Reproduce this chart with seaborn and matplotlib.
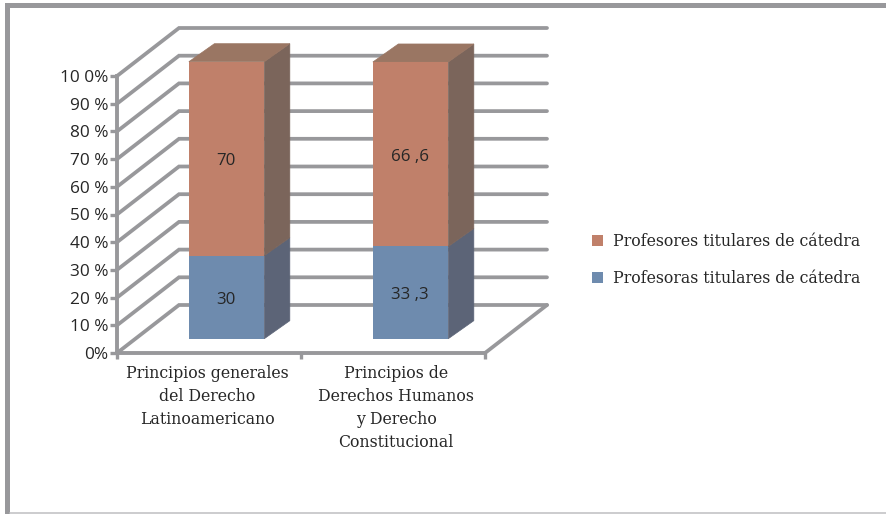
import matplotlib
matplotlib.use("Agg")
import matplotlib.pyplot as plt
from matplotlib.lines import Line2D
from matplotlib.patches import Patch, Polygon, Rectangle
from matplotlib.transforms import Affine2D
import seaborn as sns

categories = ["Principios generales\ndel Derecho\nLatinoamericano",
              "Principios de\nDerechos Humanos\ny Derecho\nConstitucional"]
profesoras = [30, 33.3]
profesores = [70, 66.6]
series_names = ["Profesores titulares de cátedra", "Profesoras titulares de cátedra"]
y_values = list(range(0, 101, 10))
y_labels = ["0%", "10 %", "20 %", "30 %", "40 %", "50 %", "60 %", "70 %", "80 %", "90 %", "10 0%"]

GREY = "#98989b"
RED, RED_SIDE, RED_TOP = "#c0806a", "#7b655b", "#9a7663"
BLUE, BLUE_SIDE = "#6e8bae", "#5c6477"
SERIF = "DejaVu Serif"

W, H = 886, 514
sns.set_theme(style="white")
plt.rcParams["font.family"] = ["Open Sans", "DejaVu Sans"]

fig = plt.figure(figsize=(W / 100, H / 100), dpi=100, facecolor="white")
ax = fig.add_axes([117 / W, (H - 353) / H, 368 / W, 277 / H])
ax.set_facecolor("none")

# Outer frame of the chart area
fig.add_artist(Rectangle((5 / W, (H - 7.7) / H), (W - 5) / W, 4.4 / H, transform=fig.transFigure, color=GREY, lw=0))
fig.add_artist(Rectangle((5 / W, 0), 5 / W, (H - 3.3) / H, transform=fig.transFigure, color=GREY, lw=0))
fig.add_artist(Line2D([10 / W, 1], [0.8 / H, 0.8 / H], transform=fig.transFigure, color="#c4c4c6", lw=1.2))

# Stacked front faces
sns.barplot(x=[0, 1], y=profesoras, color=BLUE, saturation=1, width=0.41, ax=ax,
            native_scale=True, linewidth=0, zorder=5)
n_first = len(ax.patches)
sns.barplot(x=[0, 1], y=profesores, bottom=profesoras, color=RED, saturation=1, width=0.41, ax=ax,
            native_scale=True, linewidth=0, zorder=5)

ax.set_xlim(-0.5, 1.5)
ax.set_ylim(0, 100)
fig.canvas.draw()

px_x = 368 / 2
px_y = 277 / 100
wall_dx, wall_dy = 62 / px_x, 48 / px_y
bar_dx, bar_dy = 25.5 / px_x, 18 / px_y
front = ax.transData + Affine2D().translate(17.6, 14.3)
label_pos = front + Affine2D().translate(-0.8, -2.6)

# Receding grid on the floor, side and back wall
for v in y_values:
    ax.plot([-0.5, -0.5 + wall_dx, 1.5 + wall_dx], [v, v + wall_dy, v + wall_dy],
            color=GREY, lw=2.7, clip_on=False, zorder=1, solid_joinstyle="miter")
ax.plot([1.5, 1.5 + wall_dx], [0, wall_dy], color=GREY, lw=2.7, clip_on=False, zorder=1)

# Depth faces, value labels
for i, bar in enumerate(ax.patches):
    first = i < n_first
    x0, x1 = bar.get_x(), bar.get_x() + bar.get_width()
    y0, y1 = bar.get_y(), bar.get_y() + bar.get_height()
    bar.set_transform(front)
    bar.set_clip_on(False)
    side_colour = BLUE_SIDE if first else RED_SIDE
    ax.add_patch(Polygon([(x1, y0), (x1 + bar_dx, y0 + bar_dy), (x1 + bar_dx, y1 + bar_dy), (x1, y1)],
                         closed=True, facecolor=side_colour, edgecolor=side_colour, lw=0.5,
                         transform=front, clip_on=False, zorder=4))
    if not first:
        ax.add_patch(Polygon([(x0, y1), (x0 + bar_dx, y1 + bar_dy), (x1 + bar_dx, y1 + bar_dy), (x1, y1)],
                             closed=True, facecolor=RED_TOP, edgecolor=RED_TOP, lw=0.5,
                             transform=front, clip_on=False, zorder=4))
    ax.text((x0 + x1) / 2, (y0 + y1) / 2, f"{y1 - y0:.1f}".replace(".0", "").replace(".", " ,"),
            transform=label_pos, ha="center", va="center", fontsize=12.2, color="#262626", zorder=6)

# Axes
sns.despine(ax=ax, top=True, right=True)
for side in ("left", "bottom"):
    ax.spines[side].set_color(GREY)
    ax.spines[side].set_linewidth(2.8)
    ax.spines[side].set_zorder(2)
ax.set_yticks(y_values)
ax.set_yticklabels(y_labels, fontsize=12.4, color="#262626")
ax.tick_params(axis="y", length=5, width=2.4, color=GREY, pad=1, left=True)
ax.set_xticks([-0.5, 0.5, 1.5])
ax.set_xticklabels([])
ax.tick_params(axis="x", which="major", length=4, width=2.4, color=GREY, bottom=True)
ax.set_xticks([0, 1], minor=True)
ax.set_xticklabels(categories, minor=True, fontsize=11.3, family=SERIF, color="#262626", linespacing=1.46)
ax.tick_params(axis="x", which="minor", length=0, pad=9)
for tick_label, nudge in zip(ax.get_xticklabels(minor=True), (-2, 3)):
    tick_label.set_transform(tick_label.get_transform() + Affine2D().translate(nudge, 0))

# Legend
handles = [Patch(facecolor=RED, lw=0), Patch(facecolor=BLUE, lw=0)]
fig.legend(handles, series_names, loc="center left", bbox_to_anchor=(578 / W, (H - 260) / H),
           frameon=False, prop={"family": SERIF, "size": 11.3}, labelcolor="#262626",
           handlelength=0.72, handleheight=0.72, handletextpad=0.6, labelspacing=1.32)

fig.savefig("out.png", dpi=100)
